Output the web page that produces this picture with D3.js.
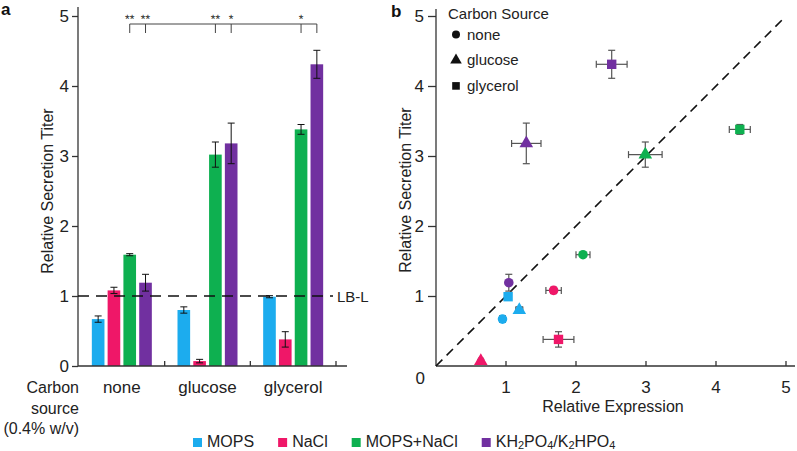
<!DOCTYPE html>
<html><head><meta charset="utf-8">
<script src="https://cdn.jsdelivr.net/npm/d3@7"></script>
<style>body{margin:0;background:#fff} svg{display:block;font-family:"Liberation Sans",Arial,sans-serif}</style>
</head><body><svg id="c" width="797" height="451"></svg>
<script>
// ---------- data ----------
const categories = ["none", "glucose", "glycerol"];
const series = ["MOPS", "NaCl", "MOPS+NaCl", "KH2PO4/K2HPO4"];
const colors = ["#1CACEE", "#EF1768", "#0EB050", "#7130A0"];
// rows = series, columns = categories
const titer = [[0.67, 0.80, 0.99], [1.08, 0.07, 0.38], [1.59, 3.02, 3.38], [1.19, 3.18, 4.31]];
const titerErr = [[0.045, 0.045, 0.015], [0.045, 0.025, 0.11], [0.015, 0.18, 0.07], [0.12, 0.29, 0.20]];
const expression = [[0.95, 1.19, 1.03], [1.68, 0.64, 1.75], [2.10, 2.99, 4.34], [1.04, 1.29, 2.51]];
const expressionErr = [[0.04, 0.05, 0.03], [0.11, 0.03, 0.22], [0.10, 0.24, 0.15], [0.03, 0.21, 0.22]];
const yTicks = [0, 1, 2, 3, 4, 5];
const xTicksB = [1, 2, 3, 4, 5];
const lbl = 1; // LB-L reference level
const sigCat = [0, 0, 1, 1, 2, 2];
const sigSer = [2, 3, 2, 3, 2, 3];
const sigLabel = ["**", "**", "**", "*", "*", ""];
const legendTitle = "Carbon Source";

const svg = d3.select("#c");
const FONT = '"Liberation Sans",Arial,sans-serif';
const AX = "#333";

// ---------- panel a ----------
const yA = d3.scaleLinear().domain([0, 5]).range([366, 16]);
const xA = d3.scaleBand().domain(categories).range([79, 336]);
const xSub = d3.scaleBand().domain(series).range([-30, 30]).paddingInner(0.2);
const gA = svg.append("g");

// y axis
const axA = gA.append("g").attr("transform", "translate(78,0)")
  .call(d3.axisLeft(yA).tickValues(yTicks).tickSize(6).tickPadding(3).tickFormat(d3.format("d")));
axA.select(".domain").remove();
axA.selectAll("line").attr("stroke", AX).attr("stroke-width", 1.3);
axA.selectAll("text").attr("font-size", 17).attr("font-family", FONT).attr("fill", "#222");
gA.append("line").attr("x1", 78).attr("x2", 78).attr("y1", 7).attr("y2", yA(0)).attr("stroke", AX).attr("stroke-width", 1.3);

// bars
categories.forEach((c, ci) => {
  series.forEach((s, si) => {
    const cx = xA(c) + xA.bandwidth() / 2 + xSub(s);
    gA.append("rect").attr("x", cx).attr("width", xSub.bandwidth())
      .attr("y", yA(titer[si][ci])).attr("height", yA(0) - yA(titer[si][ci])).attr("fill", colors[si]);
  });
});
// error bars
categories.forEach((c, ci) => {
  series.forEach((s, si) => {
    const mx = xA(c) + xA.bandwidth() / 2 + xSub(s) + xSub.bandwidth() / 2;
    const v = titer[si][ci], e = titerErr[si][ci];
    const g = gA.append("g").attr("stroke", "#111").attr("stroke-width", 1);
    g.append("line").attr("x1", mx).attr("x2", mx).attr("y1", yA(v + e)).attr("y2", yA(v - e));
    [v + e, v - e].forEach(t => g.append("line").attr("x1", mx - 3.5).attr("x2", mx + 3.5).attr("y1", yA(t)).attr("y2", yA(t)));
  });
});

// x axis
gA.append("line").attr("x1", 78).attr("x2", 347).attr("y1", yA(0)).attr("y2", yA(0)).attr("stroke", AX).attr("stroke-width", 1.3);
categories.forEach(c => {
  const bx = xA(c) + xA.bandwidth();
  gA.append("line").attr("x1", bx).attr("x2", bx).attr("y1", yA(0)).attr("y2", yA(0) - 5).attr("stroke", AX).attr("stroke-width", 1.3);
  gA.append("text").attr("x", xA(c) + xA.bandwidth() / 2).attr("y", 393).attr("text-anchor", "middle")
    .attr("font-size", 17).attr("fill", "#222").text(c);
});
["Carbon", "source", "(0.4% w/v)"].forEach((t, i) => {
  gA.append("text").attr("x", 79).attr("y", 393 + i * 20.5).attr("text-anchor", "end")
    .attr("font-size", 16).attr("fill", "#222").text(t);
});

// LB-L line
gA.append("line").attr("x1", 78).attr("x2", 333).attr("y1", yA(lbl)).attr("y2", yA(lbl))
  .attr("stroke", "#111").attr("stroke-width", 1.4).attr("stroke-dasharray", "11,7");
gA.append("text").attr("x", 337).attr("y", yA(lbl) + 5.5).attr("font-size", 15).attr("fill", "#222").text("LB-L");

// y label
gA.append("text").attr("transform", "translate(53,191) rotate(-90)").attr("text-anchor", "middle")
  .attr("font-size", 16).attr("fill", "#222").text("Relative Secretion Titer");

// significance brackets
const sigX = sigCat.map((c, i) => xA(categories[c]) + xA.bandwidth() / 2 + xSub(series[sigSer[i]]) + xSub.bandwidth() / 2);
gA.append("line").attr("x1", d3.min(sigX)).attr("x2", d3.max(sigX)).attr("y1", 24).attr("y2", 24).attr("stroke", "#444").attr("stroke-width", 1);
sigX.forEach((x, i) => {
  gA.append("line").attr("x1", x).attr("x2", x).attr("y1", 24).attr("y2", 33).attr("stroke", "#444").attr("stroke-width", 1);
  gA.append("text").attr("x", x).attr("y", 23).attr("text-anchor", "middle").attr("font-size", 12)
    .attr("fill", "#222").style("text-rendering", "geometricPrecision").text(sigLabel[i]);
});

svg.append("text").attr("x", 1).attr("y", 15).attr("font-size", 17).attr("font-weight", "bold").attr("fill", "#111").text("a");
svg.append("text").attr("x", 391).attr("y", 17).attr("font-size", 17).attr("font-weight", "bold").attr("fill", "#111").text("b");

// ---------- panel b ----------
const xB = d3.scaleLinear().domain([0, 5]).range([436, 786]);
const yB = d3.scaleLinear().domain([0, 5]).range([366, 16]);
const gB = svg.append("g");

const axBy = gB.append("g").attr("transform", "translate(436,0)")
  .call(d3.axisLeft(yB).tickValues(xTicksB).tickSize(8).tickPadding(4).tickFormat(d3.format("d")));
axBy.select(".domain").remove();
axBy.selectAll("line").attr("stroke", AX).attr("stroke-width", 1.3);
axBy.selectAll("text").attr("font-size", 17).attr("font-family", FONT).attr("fill", "#222");
gB.append("line").attr("x1", 436).attr("x2", 436).attr("y1", 9).attr("y2", yB(0)).attr("stroke", AX).attr("stroke-width", 1.3);

gB.append("line").attr("x1", 436).attr("x2", 795).attr("y1", yB(0)).attr("y2", yB(0)).attr("stroke", AX).attr("stroke-width", 1.3);
xTicksB.forEach(t => {
  gB.append("line").attr("x1", xB(t)).attr("x2", xB(t)).attr("y1", yB(0)).attr("y2", yB(0) - 5).attr("stroke", AX).attr("stroke-width", 1.3);
  gB.append("text").attr("x", xB(t)).attr("y", 393).attr("text-anchor", "middle").attr("font-size", 17).attr("fill", "#222").text(t);
});
gB.append("text").attr("x", 425).attr("y", 384).attr("text-anchor", "end").attr("font-size", 17).attr("fill", "#222").text(0);

gB.append("text").attr("x", 613).attr("y", 412).attr("text-anchor", "middle").attr("font-size", 16).attr("fill", "#222").text("Relative Expression");
gB.append("text").attr("transform", "translate(411,190) rotate(-90)").attr("text-anchor", "middle")
  .attr("font-size", 16).attr("fill", "#222").text("Relative Secretion Titer");

// diagonal
gB.append("line").attr("x1", xB(0)).attr("y1", yB(0)).attr("x2", xB(4.95)).attr("y2", yB(4.95))
  .attr("stroke", "#111").attr("stroke-width", 1.6).attr("stroke-dasharray", "9,6");

const shapes = [d3.symbolCircle, d3.symbolTriangle, d3.symbolSquare];
const sizes = [72, 80, 88];
// error bars
series.forEach((s, si) => {
  categories.forEach((c, ci) => {
    const x = expression[si][ci], y = titer[si][ci], ex = expressionErr[si][ci], ey = titerErr[si][ci];
    const g = gB.append("g").attr("stroke", "#555").attr("stroke-width", 1.2);
    g.append("line").attr("x1", xB(x - ex)).attr("x2", xB(x + ex)).attr("y1", yB(y)).attr("y2", yB(y));
    [x - ex, x + ex].forEach(t => g.append("line").attr("x1", xB(t)).attr("x2", xB(t)).attr("y1", yB(y) - 3.5).attr("y2", yB(y) + 3.5));
    g.append("line").attr("x1", xB(x)).attr("x2", xB(x)).attr("y1", yB(y - ey)).attr("y2", yB(y + ey));
    [y - ey, y + ey].forEach(t => g.append("line").attr("x1", xB(x) - 3.5).attr("x2", xB(x) + 3.5).attr("y1", yB(t)).attr("y2", yB(t)));
  });
});
// markers
series.forEach((s, si) => {
  categories.forEach((c, ci) => {
    gB.append("path").attr("d", d3.symbol(shapes[ci], sizes[ci])())
      .attr("transform", `translate(${xB(expression[si][ci])},${yB(titer[si][ci])})`).attr("fill", colors[si]);
  });
});

// carbon legend
gB.append("text").attr("x", 448).attr("y", 19).attr("font-size", 15).attr("fill", "#222").text(legendTitle);
categories.forEach((c, ci) => {
  const y = 34.5 + ci * 25.7;
  gB.append("path").attr("d", d3.symbol(shapes[ci], [50, 58, 58][ci])()).attr("transform", `translate(456,${y})`).attr("fill", "#111");
  gB.append("text").attr("x", 467).attr("y", y + 5).attr("font-size", 15).attr("fill", "#222").text(c);
});

// ---------- bottom legend ----------
const gL = svg.append("g");
let lx = 193;
series.forEach((s, si) => {
  gL.append("rect").attr("x", lx).attr("y", 438).attr("width", 9).attr("height", 9).attr("fill", colors[si]);
  const t = gL.append("text").attr("x", lx + 14).attr("y", 447).attr("font-size", 16).attr("fill", "#222");
  if (si === 3) {
    const parts = [["KH", 0], ["2", 1], ["PO", 0], ["4", 1], ["/K", 0], ["2", 1], ["HPO", 0], ["4", 1]];
    let prev = 0;
    parts.forEach(([p, sub]) => {
      const dy = sub ? 2 : (prev ? -2 : 0);
      t.append("tspan").attr("dy", dy).attr("font-size", sub ? 11 : 16).text(p);
      prev = sub;
    });
  } else {
    t.text(s);
  }
  lx = lx + 14 + t.node().getComputedTextLength() + 24;
});
</script></body></html>
